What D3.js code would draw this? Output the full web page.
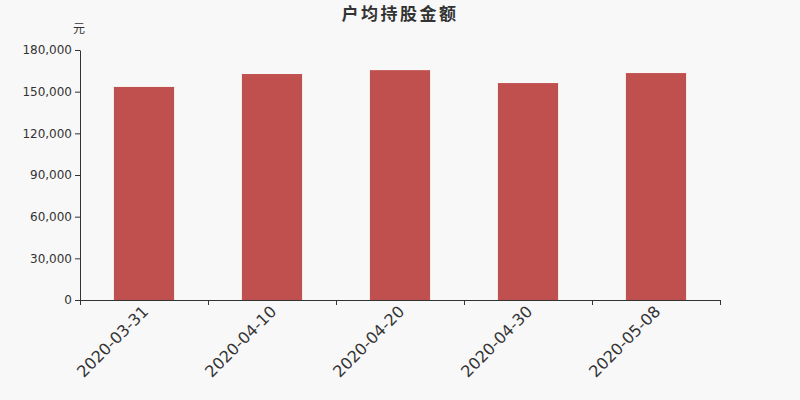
<!DOCTYPE html>
<html>
<head>
<meta charset="utf-8">
<script src="https://cdn.jsdelivr.net/npm/d3@7"></script>
<style>
  body { margin: 0; background: #f8f8f8; }
  svg { font-family: "DejaVu Sans", sans-serif; }
</style>
</head>
<body>
<div id="chart"></div>
<script>
var dates = ['2020-03-31', '2020-04-10', '2020-04-20', '2020-04-30', '2020-05-08'];
var amounts = [153400, 162700, 165500, 156200, 163400];
var yTicks = [0, 30000, 60000, 90000, 120000, 150000, 180000];

var width = 800, height = 400,
    padL = 80, padR = 720, padT = 50, padB = 300;

var svg = d3.select('#chart').append('svg')
    .attr('width', width)
    .attr('height', height);

svg.append('rect').attr('width', width).attr('height', height).attr('fill', '#f8f8f8');

var x = d3.scaleBand().domain(dates).range([padL, padR]).paddingInner(0.53).paddingOuter(0.265);
var xAxisScale = d3.scalePoint().domain(d3.range(dates.length + 1)).range([padL, padR]);
var y = d3.scaleLinear().domain([0, 180000]).range([padB, padT]);

// bars
svg.append('g').selectAll('rect')
    .data(amounts)
    .enter().append('rect')
    .attr('x', function(d, i) { return x(dates[i]); })
    .attr('y', function(d) { return y(d); })
    .attr('width', x.bandwidth())
    .attr('height', function(d) { return padB - y(d); })
    .attr('fill', '#c0504e');

// y axis
var yAxis = svg.append('g')
    .attr('transform', 'translate(' + padL + ',0)')
    .call(d3.axisLeft(y).tickValues(yTicks).tickSize(5).tickSizeOuter(0).tickPadding(3).tickFormat(d3.format(',')));
yAxis.attr('font-family', '"DejaVu Sans", sans-serif');
yAxis.select('.domain').attr('stroke', '#333');
yAxis.selectAll('.tick line').attr('stroke', '#333');
yAxis.selectAll('text').attr('fill', '#333').style('font-size', '12px');

// x axis with boundary ticks
var xAxis = svg.append('g')
    .attr('transform', 'translate(0,' + padB + ')')
    .call(d3.axisBottom(xAxisScale).tickSize(5).tickSizeOuter(0).tickFormat(''));
xAxis.select('.domain').attr('stroke', '#333');
xAxis.selectAll('.tick line').attr('stroke', '#333');

svg.append('g').selectAll('text')
    .data(dates)
    .enter().append('text')
    .attr('transform', function(d) {
        return 'translate(' + (x(d) + x.bandwidth() / 2 - 3) + ',' + (padB + 4) + ') rotate(-45)';
    })
    .attr('text-anchor', 'end')
    .attr('dy', '0.75em')
    .attr('fill', '#333')
    .style('font-size', '16px')
    .style('font-family', '"DejaVu Sans", sans-serif')
    .text(function(d) { return d; });

// unit label
svg.append('text')
    .attr('x', 79).attr('y', 33)
    .attr('text-anchor', 'middle')
    .attr('fill', '#333')
    .style('font-size', '12px')
    .style('font-family', '"Noto Sans CJK SC", sans-serif')
    .text('元');

// title
svg.append('text')
    .attr('x', 400).attr('y', 20)
    .attr('text-anchor', 'middle')
    .attr('fill', '#333')
    .style('font-size', '17px')
    .style('letter-spacing', '2.5px')
    .style('font-weight', 'bold')
    .style('font-family', '"Noto Sans CJK SC", sans-serif')
    .text('户均持股金额');
</script>
</body>
</html>
